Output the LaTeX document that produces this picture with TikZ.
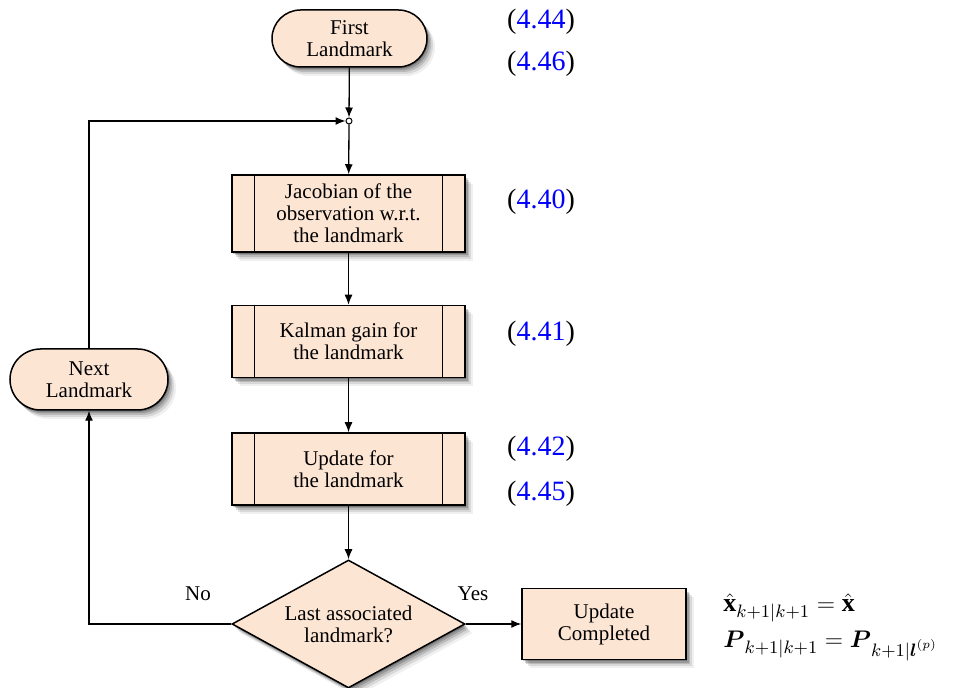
\documentclass[tikz,border=0pt]{standalone}
\usepackage{amsmath}
\usepackage{fontspec}
\setmainfont{Liberation Serif}
\usetikzlibrary{shapes.geometric,shapes.misc,shadows,arrows.meta}
\definecolor{peach}{RGB}{253,229,212}
\definecolor{refblue}{RGB}{0,0,255}
\tikzset{
  softshadow/.style={
    drop shadow={shadow xshift=0.6pt,shadow yshift=-0.8pt,opacity=0.22,fill=black},
    drop shadow={shadow xshift=1.3pt,shadow yshift=-1.6pt,opacity=0.18,fill=black},
    drop shadow={shadow xshift=2.1pt,shadow yshift=-2.5pt,opacity=0.14,fill=black},
    drop shadow={shadow xshift=3pt,shadow yshift=-3.5pt,opacity=0.10,fill=black},
    drop shadow={shadow xshift=4pt,shadow yshift=-4.5pt,opacity=0.06,fill=black}},
  base/.style={draw=black, line width=0.75pt, fill=peach, align=center,
    font=\fontsize{10.5}{11}\selectfont, inner sep=0pt, softshadow},
  terminal/.style={base, rounded rectangle},
  procbox/.style={base, rectangle, minimum width=116.5pt},
  plainbox/.style={base, rectangle},
  decision/.style={base, diamond, aspect=1.82, minimum width=116.5pt, minimum height=64pt},
  junction/.style={circle, draw=black, fill=white, line width=0.5pt, inner sep=0pt, minimum size=3pt},
  conn/.style={line width=0.65pt, -{Latex[length=5pt,width=4pt]}},
  inner/.style={line width=0.6pt},
  eqref/.style={font=\fontsize{14}{16}\selectfont, inner sep=0pt},
  lbl/.style={font=\fontsize{10.5}{11}\selectfont, inner sep=0pt},
  mathlbl/.style={anchor=base west, inner sep=0pt, font=\fontsize{13}{16}\selectfont}
}
\newcommand{\eqr}[1]{(\textcolor{refblue}{#1})}
\begin{document}
\begin{tikzpicture}[x=0.5pt,y=-0.5pt]
\useasboundingbox (0,0) rectangle (958,688);

\node[terminal, minimum width=77.5pt, minimum height=28.5pt] (first) at (349.5,38.5) {First\\Landmark};
\node[junction] (junc) at (349,121) {};
\node[procbox, minimum height=38.5pt] (jac) at (348.5,213.5) {Jacobian of the\\observation w.r.t.\\the landmark};
\node[procbox, minimum height=36pt] (kal) at (348.5,341.5) {Kalman gain for\\the landmark};
\node[procbox, minimum height=36pt] (upd) at (348.5,469) {Update for\\the landmark};
\node[decision] (dec) at (348.5,624) {Last associated\\landmark?};
\node[plainbox, minimum width=82pt, minimum height=35.5pt] (done) at (604,624) {Update\\Completed};
\node[terminal, minimum width=79pt, minimum height=30.5pt] (next) at (89,379.5) {Next\\Landmark};

\foreach \b in {jac,kal,upd}{
  \draw[inner] ([xshift=11.5pt]\b.north west) -- ([xshift=11.5pt]\b.south west);
  \draw[inner] ([xshift=-11.5pt]\b.north east) -- ([xshift=-11.5pt]\b.south east);
}

\draw[conn] (first) -- (junc);
\draw[conn] (next.north) |- (junc);
\draw[conn] (junc) -- (jac);
\draw[conn] (jac) -- (kal);
\draw[conn] (kal) -- (upd);
\draw[conn] (upd) -- (dec);
\draw[conn] (dec.west) -| (next.south);
\draw[conn] (dec.east) -- (done.west);

\node[lbl] (no) at (198,594) {No};
\node[lbl] (yes) at (473,594) {Yes};

\node[eqref] (e44) at (541,22) {\eqr{4.44}};
\node[eqref] (e46) at (541,64) {\eqr{4.46}};
\node[eqref] (e40) at (541,202) {\eqr{4.40}};
\node[eqref] (e41) at (541,334) {\eqr{4.41}};
\node[eqref] (e42) at (541,449) {\eqr{4.42}};
\node[eqref] (e45) at (541,494) {\eqr{4.45}};

\node[mathlbl] (math1) at (723,612) {$\hat{\mathbf{x}}_{k+1|k+1} = \hat{\mathbf{x}}$};
\node[mathlbl] (math2) at (723,648) {$\boldsymbol{P}_{k+1|k+1} = \boldsymbol{P}_{k+1|\boldsymbol{l}^{(p)}}$};
\end{tikzpicture}
\end{document}
